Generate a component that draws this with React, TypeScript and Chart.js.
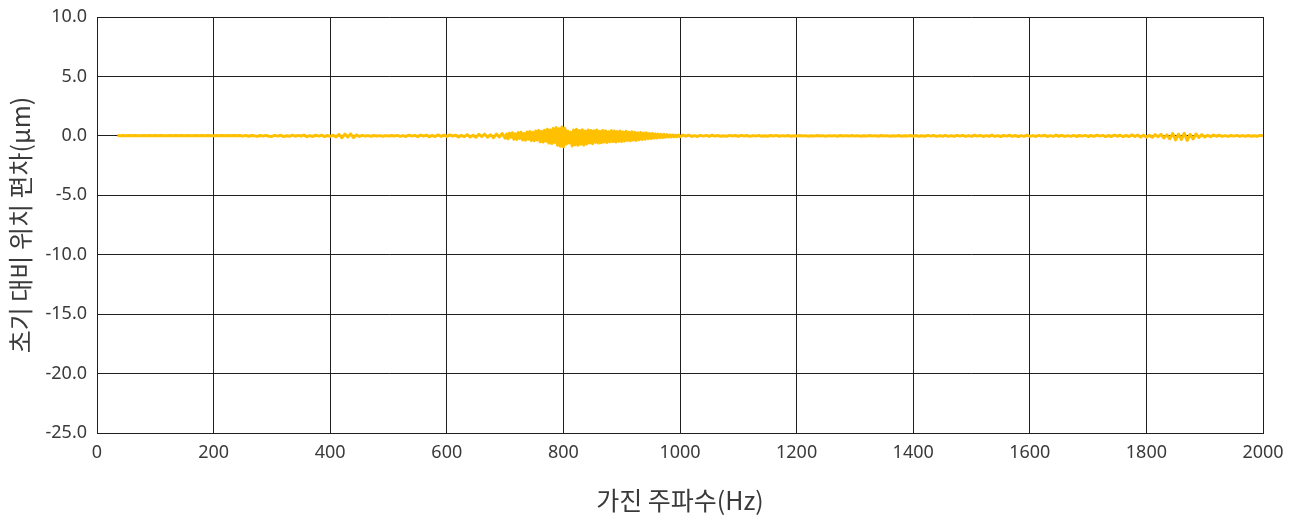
import React, { useEffect, useRef } from "react";
import { Chart, registerables } from "chart.js";

Chart.register(...registerables);

// Sweep: deviation from the initial position (μm).
// Each block: start frequency (Hz), sampling step (Hz), samples.

// 35–195 Hz, 5 Hz step
const dev035 = [
  0.02, 0.01, 0.02, 0.01, 0.02, 0.01, 0.02, 0.01, 0.01, 0.02, 0.01, 0.02, 0.01,
  0.02, 0.01, 0.02, 0.01, 0.01, 0.02, 0.01, 0.02, 0.01, 0.02, 0.01, 0.02, 0.01, 0.01, 0.02, 0.01, 0.02, 0.01, 0.02, 0.01,
];
const dev200 = [0.01, 0.02, 0.01, 0.02, 0.01, 0.02, 0.0, 0.02, 0.01, 0.03, -0.02, 0.04, -0.03, 0.03, 0.0, -0.04, 0.03, -0.02, 0.04, -0.03];
const dev300 = [-0.05, 0.04, -0.02, 0.05, -0.06, 0.01, -0.04, 0.06, -0.03, 0.04, -0.01, 0.06, -0.07, 0.02, -0.05, 0.05, -0.02, 0.06, -0.06, 0.03];
const dev400 = [-0.04, 0.05, -0.08, 0.12, -0.16, 0.15, -0.1, 0.16, -0.15, 0.08, -0.05, 0.04, -0.02, 0.02, -0.03, 0.03, -0.01, 0.02, -0.03, 0.02];
const dev500 = [-0.02, 0.03, -0.01, 0.04, -0.04, 0.02, -0.05, 0.06, -0.02, 0.04, -0.06, 0.07, -0.03, 0.06, -0.07, 0.03, -0.06, 0.08, -0.04, 0.06];
const dev600 = [-0.05, 0.08, -0.03, 0.06, -0.09, 0.04, -0.06, 0.1, -0.1, 0.05, -0.12, 0.13, -0.07, 0.14, -0.11, 0.09, -0.16, 0.15, -0.1, 0.2];
// 700–997.5 Hz, 2.5 Hz step (resonance band)
const dev700 = [
  -0.2, 0.15, -0.25, 0.22, -0.12, 0.26, -0.28, 0.18, -0.3, 0.28,
  -0.22, 0.3, -0.34, 0.2, -0.36, 0.32, -0.28, 0.36, -0.4, 0.3,
  -0.42, 0.4, -0.35, 0.45, -0.5, 0.38, -0.52, 0.48, -0.45, 0.55,
  -0.6, 0.5, -0.65, 0.62, -0.55, 0.7, -0.8, 0.6, -0.88, 0.75,
];
const dev800 = [
  -0.92, 0.65, -0.7, 0.4, -0.6, 0.3, -0.85, 0.5, -0.75, 0.55,
  -0.8, 0.45, -0.7, 0.52, -0.78, 0.4, -0.68, 0.5, -0.6, 0.46,
  -0.66, 0.42, -0.55, 0.5, -0.6, 0.38, -0.58, 0.45, -0.52, 0.42,
  -0.55, 0.35, -0.5, 0.44, -0.48, 0.4, -0.52, 0.36, -0.46, 0.4,
];
const dev900 = [
  -0.48, 0.32, -0.44, 0.38, -0.4, 0.3, -0.42, 0.34, -0.36, 0.3,
  -0.38, 0.26, -0.32, 0.28, -0.3, 0.24, -0.28, 0.25, -0.24, 0.2,
  -0.22, 0.2, -0.2, 0.16, -0.18, 0.15, -0.16, 0.12, -0.14, 0.12,
  -0.12, 0.1, -0.1, 0.08, -0.09, 0.07, -0.08, 0.06, -0.07, 0.06,
];
// 1000–2000 Hz, 5 Hz step
const dev1000 = [-0.08, 0.07, -0.03, 0.06, -0.05, 0.02, -0.05, 0.04, -0.02, 0.04, -0.04, 0.05, -0.02, 0.03, -0.04, 0.01, -0.03, 0.04, -0.01, 0.03];
const dev1100 = [-0.03, 0.04, -0.01, 0.03, -0.04, 0.02, -0.02, 0.04, -0.03, 0.01, -0.03, 0.03, -0.01, 0.04, -0.03, 0.02, -0.02, 0.03, -0.03, 0.01];
const dev1200 = [-0.02, 0.03, -0.01, 0.02, -0.03, 0.01, -0.02, 0.03, -0.01, 0.02, -0.03, 0.02, -0.01, 0.02, -0.03, 0.03, -0.01, 0.02, -0.02, 0.03];
const dev1300 = [-0.02, 0.02, -0.03, 0.01, -0.02, 0.03, -0.01, 0.02, -0.03, 0.03, -0.01, 0.02, -0.03, 0.01, -0.02, 0.03, -0.03, 0.01, -0.02, 0.03];
const dev1400 = [-0.03, 0.03, -0.04, 0.01, -0.03, 0.04, -0.02, 0.03, -0.04, 0.02, -0.03, 0.04, -0.04, 0.02, -0.03, 0.04, -0.02, 0.04, -0.04, 0.02];
const dev1500 = [-0.04, 0.05, -0.02, 0.04, -0.05, 0.02, -0.03, 0.05, -0.04, 0.02, -0.05, 0.03, -0.02, 0.05, -0.04, 0.03, -0.05, 0.02, -0.04, 0.05];
const dev1600 = [-0.04, 0.02, -0.05, 0.04, -0.02, 0.05, -0.05, 0.02, -0.04, 0.05, -0.03, 0.04, -0.04, 0.02, -0.04, 0.04, -0.05, 0.03, -0.02, 0.04];
const dev1700 = [-0.05, 0.03, -0.04, 0.06, -0.02, 0.04, -0.06, 0.03, -0.05, 0.06, -0.03, 0.05, -0.07, 0.04, -0.06, 0.08, -0.05, 0.07, -0.1, 0.06];
const dev1800 = [-0.1, 0.05, -0.12, 0.1, -0.07, 0.12, -0.18, 0.08, -0.25, 0.2, -0.34, 0.14, -0.3, 0.22, -0.38, 0.12, -0.26, 0.15, -0.14, 0.1];
const dev1900 = [-0.1, 0.05, -0.07, 0.06, -0.03, 0.05, -0.04, 0.02, -0.04, 0.03, -0.02, 0.04, -0.03, 0.02, -0.03, 0.03, -0.04, 0.01, -0.03, 0.04];
const dev2000 = [0.0];

const segments: [number, number, number[]][] = [
  [35, 5, dev035], [200, 5, dev200], [300, 5, dev300], [400, 5, dev400], [500, 5, dev500],
  [600, 5, dev600], [700, 2.5, dev700], [800, 2.5, dev800], [900, 2.5, dev900], [1000, 5, dev1000],
  [1100, 5, dev1100], [1200, 5, dev1200], [1300, 5, dev1300], [1400, 5, dev1400], [1500, 5, dev1500],
  [1600, 5, dev1600], [1700, 5, dev1700], [1800, 5, dev1800], [1900, 5, dev1900], [2000, 5, dev2000],
];

const X_MIN = 0;
const X_MAX = 2000;
const X_STEP = 200;
const Y_MIN = -25;
const Y_MAX = 10;
const Y_STEP = 5;

const X_TITLE = "가진 주파수(Hz)";
const Y_TITLE = "초기 대비 위치 편차(μm)";

export default function App() {
  const canvasRef = useRef<HTMLCanvasElement | null>(null);

  useEffect(() => {
    if (!canvasRef.current) return;
    const points: { x: number; y: number }[] = [];
    segments.forEach(([start, step, vals]) => {
      vals.forEach((v, i) => points.push({ x: start + i * step, y: v }));
    });

    const gridColor = "#1f1f1f";
    const textColor = "#3a3a3a";
    const tickFont = { family: "'Noto Sans', 'Open Sans', sans-serif", size: 18 };
    const titleFont = { family: "'Noto Sans CJK KR', sans-serif", size: 25 };

    const chart = new Chart(canvasRef.current, {
      type: "line",
      data: {
        datasets: [
          {
            data: points,
            borderColor: "#FFC000",
            borderWidth: 3,
            borderJoinStyle: "round",
            pointRadius: 0,
            tension: 0,
            fill: false,
          },
        ],
      },
      options: {
        animation: false,
        responsive: true,
        maintainAspectRatio: false,
        layout: { padding: { top: 17, right: 34, left: 0, bottom: 0 } },
        plugins: { legend: { display: false }, tooltip: { enabled: false } },
        scales: {
          x: {
            type: "linear",
            min: X_MIN,
            max: X_MAX,
            afterFit: (s: any) => {
              s.height = 87;
              s.paddingLeft = 0;
              s.paddingRight = 0;
            },
            ticks: {
              stepSize: X_STEP,
              color: textColor,
              font: tickFont,
              padding: 9,
              maxRotation: 0,
              callback: (v: any) => String(v),
            },
            grid: { color: gridColor, lineWidth: 1, drawTicks: false },
            border: { color: gridColor, width: 1 },
            title: { display: true, text: X_TITLE, color: textColor, font: titleFont, padding: { top: 0, bottom: 5 } },
          },
          y: {
            type: "linear",
            min: Y_MIN,
            max: Y_MAX,
            afterFit: (s: any) => {
              s.width = 97;
              s.paddingTop = 0;
              s.paddingBottom = 0;
            },
            ticks: {
              stepSize: Y_STEP,
              color: textColor,
              font: tickFont,
              padding: 10,
              callback: (v: any) => Number(v).toFixed(1),
            },
            grid: { color: gridColor, lineWidth: 1, drawTicks: false },
            border: { color: gridColor, width: 1 },
            title: { display: true, text: Y_TITLE, color: textColor, font: titleFont, padding: { top: 5, bottom: 0 } },
          },
        },
      },
    });
    return () => chart.destroy();
  }, []);

  return (
    <div style={{ position: "absolute", left: 0, top: 0, width: 1297, height: 520, background: "#fff" }}>
      <canvas ref={canvasRef} />
    </div>
  );
}
